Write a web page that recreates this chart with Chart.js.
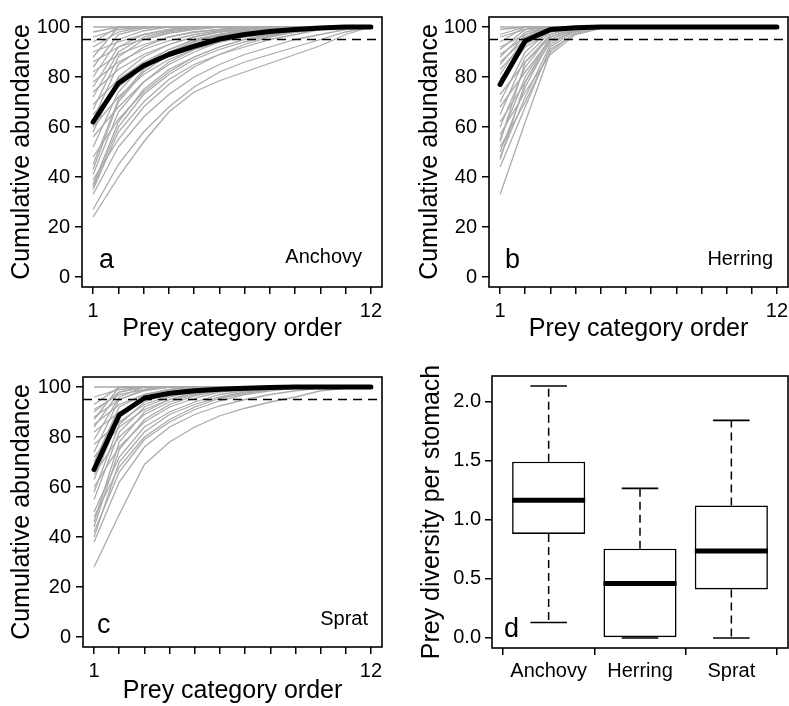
<!DOCTYPE html>
<html>
<head>
<meta charset="utf-8">
<script src="https://cdn.jsdelivr.net/npm/chart.js@4.4.1/dist/chart.umd.min.js"></script>
<style>
  html, body { margin: 0; padding: 0; background: #fff; overflow: hidden; width: 789px; height: 706px; }
  canvas { position: absolute; }
</style>
</head>
<body>
<canvas id="anchovyChart" width="395" height="360" style="left:0px;top:0px"></canvas>
<canvas id="herringChart" width="420" height="360" style="left:395px;top:0px"></canvas>
<canvas id="spratChart" width="395" height="370" style="left:0px;top:360px"></canvas>
<canvas id="diversityChart" width="420" height="370" style="left:395px;top:360px"></canvas>
<script>
// x positions (prey category order) and y ticks for the cumulative panels
const PREY_ORDER = [1, 2, 3, 4, 5, 6, 7, 8, 9, 10, 11, 12];
const ABUNDANCE_TICKS = [0, 20, 40, 60, 80, 100];
const THRESHOLD = 95;

// panel a - anchovy
const ANCHOVY_MEAN = [62, 77.5, 84.5, 89, 92.3, 95.2, 97, 98.2, 99, 99.6, 100, 100];
const ANCHOVY_STOMACHS = [
  [24, 40, 54, 66, 74, 78.5, 82, 85.5, 89, 92.5, 97, 100],
  [27, 45, 58, 68, 76, 82, 86, 89, 92, 95, 98, 100],
  [33, 52, 64, 73, 80, 85, 89, 92, 95, 97, 99, 100],
  [35, 58, 70, 79, 85, 89, 92, 95, 97, 99, 100, 100],
  [36, 60, 73, 81, 87, 91, 94, 96.5, 98, 99, 100, 100],
  [37, 62, 75, 83, 88, 92, 95, 97, 98.5, 99.5, 100, 100],
  [39, 55, 68, 77, 84, 89, 93, 96, 98, 99, 100, 100],
  [41, 66, 78, 86, 91, 94, 96.5, 98, 99, 100, 100, 100],
  [43, 70, 82, 89, 93, 96, 98, 99, 100, 100, 100, 100],
  [45, 71, 83, 90, 94, 97, 98.5, 99.5, 100, 100, 100, 100],
  [48, 63, 74, 82, 88, 92, 95, 97, 98.5, 99.5, 100, 100],
  [52, 74, 85, 91, 95, 97, 98.5, 99.5, 100, 100, 100, 100],
  [56, 68, 78, 85, 90, 94, 96.5, 98, 99, 100, 100, 100],
  [58, 80, 88, 93, 96, 98, 99, 100, 100, 100, 100, 100],
  [60, 72, 81, 87, 91, 94, 96, 97.5, 98.5, 99.5, 100, 100],
  [63, 85, 92, 96, 98, 99, 100, 100, 100, 100, 100, 100],
  [65, 76, 84, 90, 94, 96.5, 98, 99, 100, 100, 100, 100],
  [67, 88, 95, 98, 99.5, 100, 100, 100, 100, 100, 100, 100],
  [69, 79, 86, 91, 94.5, 97, 98.5, 99.5, 100, 100, 100, 100],
  [72, 90, 96, 98.5, 100, 100, 100, 100, 100, 100, 100, 100],
  [74, 83, 89, 93, 96, 98, 99, 100, 100, 100, 100, 100],
  [76, 92, 97, 99, 100, 100, 100, 100, 100, 100, 100, 100],
  [78, 86, 91, 94.5, 97, 98.5, 99.5, 100, 100, 100, 100, 100],
  [80, 95, 98.5, 100, 100, 100, 100, 100, 100, 100, 100, 100],
  [82, 89, 93, 96, 98, 99, 100, 100, 100, 100, 100, 100],
  [84, 97, 99.5, 100, 100, 100, 100, 100, 100, 100, 100, 100],
  [86, 92, 95, 97.5, 99, 100, 100, 100, 100, 100, 100, 100],
  [88, 100, 100, 100, 100, 100, 100, 100, 100, 100, 100, 100],
  [90, 94, 97, 99, 100, 100, 100, 100, 100, 100, 100, 100],
  [92, 98, 100, 100, 100, 100, 100, 100, 100, 100, 100, 100],
  [94, 100, 100, 100, 100, 100, 100, 100, 100, 100, 100, 100],
  [96, 99, 100, 100, 100, 100, 100, 100, 100, 100, 100, 100],
  [98, 100, 100, 100, 100, 100, 100, 100, 100, 100, 100, 100],
  [100, 100, 100, 100, 100, 100, 100, 100, 100, 100, 100, 100]
];

// panel b - herring
const HERRING_MEAN = [77, 94.5, 99, 99.7, 100, 100, 100, 100, 100, 100, 100, 100];
const HERRING_STOMACHS = [
  [33, 62, 90, 98, 100, 100, 100, 100, 100, 100, 100, 100],
  [44, 68, 92, 98.5, 100, 100, 100, 100, 100, 100, 100, 100],
  [47, 78, 96, 99.5, 100, 100, 100, 100, 100, 100, 100, 100],
  [48, 72, 93, 99, 100, 100, 100, 100, 100, 100, 100, 100],
  [50, 76, 95, 99, 100, 100, 100, 100, 100, 100, 100, 100],
  [52, 70, 91, 97.5, 99.5, 100, 100, 100, 100, 100, 100, 100],
  [54, 86, 97, 100, 100, 100, 100, 100, 100, 100, 100, 100],
  [55, 80, 96, 99.5, 100, 100, 100, 100, 100, 100, 100, 100],
  [57, 74, 89, 97, 99.5, 100, 100, 100, 100, 100, 100, 100],
  [60, 84, 97, 100, 100, 100, 100, 100, 100, 100, 100, 100],
  [62, 78, 94, 98.5, 100, 100, 100, 100, 100, 100, 100, 100],
  [65, 88, 98, 100, 100, 100, 100, 100, 100, 100, 100, 100],
  [68, 82, 95, 99, 100, 100, 100, 100, 100, 100, 100, 100],
  [70, 90, 99, 100, 100, 100, 100, 100, 100, 100, 100, 100],
  [73, 86, 96, 99.5, 100, 100, 100, 100, 100, 100, 100, 100],
  [76, 93, 99, 100, 100, 100, 100, 100, 100, 100, 100, 100],
  [79, 92, 98, 100, 100, 100, 100, 100, 100, 100, 100, 100],
  [81, 96, 100, 100, 100, 100, 100, 100, 100, 100, 100, 100],
  [83, 94, 99, 100, 100, 100, 100, 100, 100, 100, 100, 100],
  [85, 97, 100, 100, 100, 100, 100, 100, 100, 100, 100, 100],
  [86, 95, 99, 100, 100, 100, 100, 100, 100, 100, 100, 100],
  [88, 98, 100, 100, 100, 100, 100, 100, 100, 100, 100, 100],
  [89, 96, 99.5, 100, 100, 100, 100, 100, 100, 100, 100, 100],
  [91, 99, 100, 100, 100, 100, 100, 100, 100, 100, 100, 100],
  [92, 97, 100, 100, 100, 100, 100, 100, 100, 100, 100, 100],
  [94, 100, 100, 100, 100, 100, 100, 100, 100, 100, 100, 100],
  [96, 99, 100, 100, 100, 100, 100, 100, 100, 100, 100, 100],
  [97, 100, 100, 100, 100, 100, 100, 100, 100, 100, 100, 100],
  [99, 100, 100, 100, 100, 100, 100, 100, 100, 100, 100, 100],
  [100, 100, 100, 100, 100, 100, 100, 100, 100, 100, 100, 100]
];

// panel c - sprat
const SPRAT_MEAN = [67, 88.8, 95.6, 97.5, 98.5, 99.1, 99.5, 99.8, 100, 100, 100, 100];
const SPRAT_STOMACHS = [
  [28, 49, 69, 78, 84, 88.5, 91.5, 94, 96, 98.5, 99.5, 100],
  [38, 62, 76, 84, 89, 92.5, 95, 97, 98.5, 99.5, 100, 100],
  [40, 70, 82, 89, 93, 96, 98, 99, 100, 100, 100, 100],
  [42, 66, 79, 86, 91, 94.5, 97, 98.5, 99.5, 100, 100, 100],
  [44, 75, 87, 93, 96.5, 98.5, 99.5, 100, 100, 100, 100, 100],
  [46, 78, 90, 95, 98, 99.5, 100, 100, 100, 100, 100, 100],
  [48, 68, 80, 87, 92, 95.5, 97.5, 99, 100, 100, 100, 100],
  [50, 72, 84, 90, 94, 97, 98.5, 99.5, 100, 100, 100, 100],
  [55, 82, 92, 96, 98.5, 100, 100, 100, 100, 100, 100, 100],
  [58, 85, 94, 97.5, 99, 100, 100, 100, 100, 100, 100, 100],
  [60, 76, 86, 92, 95.5, 98, 99, 100, 100, 100, 100, 100],
  [63, 88, 95, 98, 99.5, 100, 100, 100, 100, 100, 100, 100],
  [65, 80, 89, 94, 97, 99, 100, 100, 100, 100, 100, 100],
  [70, 92, 97, 99, 100, 100, 100, 100, 100, 100, 100, 100],
  [72, 84, 91, 95, 97.5, 99, 100, 100, 100, 100, 100, 100],
  [74, 95, 99, 100, 100, 100, 100, 100, 100, 100, 100, 100],
  [77, 86, 93, 96.5, 98.5, 99.5, 100, 100, 100, 100, 100, 100],
  [79, 96, 100, 100, 100, 100, 100, 100, 100, 100, 100, 100],
  [82, 90, 95, 98, 99.5, 100, 100, 100, 100, 100, 100, 100],
  [84, 98, 100, 100, 100, 100, 100, 100, 100, 100, 100, 100],
  [85, 93, 97, 99, 100, 100, 100, 100, 100, 100, 100, 100],
  [87, 100, 100, 100, 100, 100, 100, 100, 100, 100, 100, 100],
  [88, 95, 98.5, 100, 100, 100, 100, 100, 100, 100, 100, 100],
  [90, 98, 100, 100, 100, 100, 100, 100, 100, 100, 100, 100],
  [91, 97, 99, 100, 100, 100, 100, 100, 100, 100, 100, 100],
  [93, 100, 100, 100, 100, 100, 100, 100, 100, 100, 100, 100],
  [96, 99, 100, 100, 100, 100, 100, 100, 100, 100, 100, 100],
  [100, 100, 100, 100, 100, 100, 100, 100, 100, 100, 100, 100]
];

// panel d - prey diversity boxplots
const SPECIES = ['Anchovy', 'Herring', 'Sprat'];
const DIVERSITY_TICKS = [0, 0.5, 1, 1.5, 2];
const DIV_MIN = [0.13, 0, 0];
const DIV_Q1 = [0.88, 0, 0.41];
const DIV_MEDIAN = [1.165, 0.46, 0.735];
const DIV_Q3 = [1.49, 0.755, 1.12];
const DIV_MAX = [2.13, 1.265, 1.84];

Chart.defaults.font.family = '"Liberation Sans", Arial, Helvetica, sans-serif';
Chart.defaults.font.size = 20;
Chart.defaults.color = '#000';

// box around the plot region + panel letter + species name
const framePlugin = {
  id: 'frame',
  afterDraw(chart, args, opts) {
    const { ctx, chartArea: a } = chart;
    ctx.save();
    ctx.strokeStyle = '#000';
    ctx.lineWidth = 1.6;
    ctx.strokeRect(a.left, a.top, a.right - a.left, a.bottom - a.top);
    ctx.fillStyle = '#000';
    ctx.textBaseline = 'alphabetic';
    if (opts.letter) {
      ctx.font = '27px "Liberation Sans", Arial, sans-serif';
      ctx.textAlign = 'left';
      ctx.fillText(opts.letter, a.left + opts.letterDx, a.bottom - opts.letterDy);
    }
    if (opts.name) {
      ctx.font = '20px "Liberation Sans", Arial, sans-serif';
      ctx.textAlign = 'right';
      ctx.fillText(opts.name, a.right - opts.nameDx, a.bottom - opts.nameDy);
    }
    ctx.restore();
  }
};

// dashed 95% line, drawn over the grey lines but under the mean
// (chart.js paints datasets from the last index down to 0)
const thresholdPlugin = {
  id: 'threshold',
  afterDatasetDraw(chart, args, opts) {
    if (args.index !== opts.afterIndex) return;
    const { ctx, chartArea: a } = chart;
    const y = chart.scales.y.getPixelForValue(opts.value);
    ctx.save();
    ctx.strokeStyle = '#000';
    ctx.lineWidth = 1.5;
    ctx.setLineDash([9, 6]);
    ctx.beginPath();
    ctx.moveTo(a.left, y);
    ctx.lineTo(a.right, y);
    ctx.stroke();
    ctx.restore();
  }
};

function makeCurveChart(id, stomachs, mean, panel) {
  // mean first so it ends up painted on top
  const datasets = [{
    data: mean.map((v, i) => ({ x: PREY_ORDER[i], y: v })),
    borderColor: '#000',
    borderWidth: 5,
    borderCapStyle: 'round',
    borderJoinStyle: 'round',
    pointRadius: 0
  }];
  stomachs.forEach(vals => datasets.push({
    data: vals.map((v, i) => ({ x: PREY_ORDER[i], y: v })),
    borderColor: '#ababab',
    borderWidth: 1.3,
    pointRadius: 0
  }));

  new Chart(document.getElementById(id), {
    type: 'line',
    data: { datasets },
    plugins: [framePlugin, thresholdPlugin],
    options: {
      responsive: false,
      animation: false,
      layout: { padding: { left: 0, top: panel.top, right: panel.right, bottom: 0 } },
      plugins: {
        legend: { display: false },
        tooltip: { enabled: false },
        frame: panel.labels,
        threshold: { value: THRESHOLD, afterIndex: 1 }
      },
      scales: {
        x: {
          type: 'linear',
          min: 0.56,
          max: 12.44,
          afterBuildTicks: s => { s.ticks = PREY_ORDER.map(v => ({ value: v })); },
          afterFit: s => { s.height = panel.xAxisHeight; },
          grid: { drawOnChartArea: false, drawTicks: true, tickLength: 7, color: '#000', lineWidth: 1.5 },
          border: { display: false },
          ticks: {
            autoSkip: false, maxRotation: 0, padding: 5,
            callback: v => (v === 1 || v === 12) ? String(v) : ''
          },
          title: { display: true, text: 'Prey category order', font: { size: 25 }, padding: { top: 0, bottom: panel.xTitlePad } }
        },
        y: {
          type: 'linear',
          min: -4,
          max: 104,
          afterBuildTicks: s => { s.ticks = ABUNDANCE_TICKS.map(v => ({ value: v })); },
          afterFit: s => { s.width = panel.yAxisWidth; },
          grid: { drawOnChartArea: false, drawTicks: true, tickLength: 7, color: '#000', lineWidth: 1.5 },
          border: { display: false },
          ticks: { padding: 5, callback: v => String(v) },
          title: { display: true, text: 'Cumulative abundance', font: { size: 25 }, padding: { top: panel.yTitlePad, bottom: 0 } }
        }
      }
    }
  });
}

makeCurveChart('anchovyChart', ANCHOVY_STOMACHS, ANCHOVY_MEAN, {
  top: 12, right: 13, xAxisHeight: 73, yAxisWidth: 82, xTitlePad: 16, yTitlePad: 7,
  labels: { letter: 'a', letterDx: 17, letterDy: 19, name: 'Anchovy', nameDx: 20, nameDy: 24 }
});
makeCurveChart('herringChart', HERRING_STOMACHS, HERRING_MEAN, {
  top: 12, right: 27, xAxisHeight: 73, yAxisWidth: 94, xTitlePad: 16, yTitlePad: 20,
  labels: { letter: 'b', letterDx: 16, letterDy: 19, name: 'Herring', nameDx: 15, nameDy: 22 }
});
makeCurveChart('spratChart', SPRAT_STOMACHS, SPRAT_MEAN, {
  top: 13, right: 13, xAxisHeight: 83, yAxisWidth: 83, xTitlePad: 24, yTitlePad: 7,
  labels: { letter: 'c', letterDx: 14, letterDy: 14, name: 'Sprat', nameDx: 14, nameDy: 22 }
});

// whiskers, caps and medians for the boxplot panel
const whiskerPlugin = {
  id: 'whiskers',
  afterDatasetsDraw(chart) {
    const { ctx, scales: { x, y } } = chart;
    const boxes = chart.getDatasetMeta(0).data;
    const seg = (x1, y1, x2, y2) => { ctx.beginPath(); ctx.moveTo(x1, y1); ctx.lineTo(x2, y2); ctx.stroke(); };
    ctx.save();
    ctx.strokeStyle = '#000';
    SPECIES.forEach((name, i) => {
      const cx = x.getPixelForValue(i + 1);
      const half = boxes[i].width / 2;
      const capHalf = half / 2;
      const yMin = y.getPixelForValue(DIV_MIN[i]);
      const yMax = y.getPixelForValue(DIV_MAX[i]);
      ctx.lineWidth = 1.5;
      ctx.setLineDash([8, 5]);
      seg(cx, y.getPixelForValue(DIV_Q3[i]), cx, yMax);
      if (DIV_Q1[i] > DIV_MIN[i]) seg(cx, y.getPixelForValue(DIV_Q1[i]), cx, yMin);
      ctx.setLineDash([]);
      ctx.lineWidth = 1.6;
      seg(cx - capHalf, yMax, cx + capHalf, yMax);
      seg(cx - capHalf, yMin, cx + capHalf, yMin);
      ctx.lineWidth = 5;
      const yMed = y.getPixelForValue(DIV_MEDIAN[i]);
      seg(cx - half, yMed, cx + half, yMed);
    });
    ctx.restore();
  }
};

new Chart(document.getElementById('diversityChart'), {
  type: 'bar',
  data: {
    datasets: [{
      data: SPECIES.map((name, i) => ({ x: i + 1, y: [DIV_Q1[i], DIV_Q3[i]] })),
      backgroundColor: '#fff',
      borderColor: '#000',
      borderWidth: 1.6,
      borderSkipped: false,
      categoryPercentage: 1,
      barPercentage: 0.8
    }]
  },
  plugins: [framePlugin, whiskerPlugin],
  options: {
    responsive: false,
    animation: false,
    layout: { padding: { left: 0, top: 12, right: 27, bottom: 0 } },
    plugins: {
      legend: { display: false },
      tooltip: { enabled: false },
      frame: { letter: 'd', letterDx: 12, letterDy: 11 }
    },
    scales: {
      x: {
        type: 'linear',
        offset: false,
        min: 0.38,
        max: 3.62,
        afterBuildTicks: s => { s.ticks = SPECIES.map((name, i) => ({ value: i + 1 })); },
        afterFit: s => { s.height = 82; },
        grid: { drawOnChartArea: false, drawTicks: true, tickLength: 7, color: '#000', lineWidth: 1.5 },
        border: { display: false },
        ticks: { autoSkip: false, maxRotation: 0, padding: 4, callback: v => SPECIES[v - 1] || '' }
      },
      y: {
        type: 'linear',
        min: -0.085,
        max: 2.215,
        afterBuildTicks: s => { s.ticks = DIVERSITY_TICKS.map(v => ({ value: v })); },
        afterFit: s => { s.width = 97; },
        grid: { drawOnChartArea: false, drawTicks: true, tickLength: 7, color: '#000', lineWidth: 1.5 },
        border: { display: false },
        ticks: { padding: 4, callback: v => v.toFixed(1) },
        title: { display: true, text: 'Prey diversity per stomach', font: { size: 25 }, padding: { top: 22, bottom: 0 } }
      }
    }
  }
});
</script>
</body>
</html>
